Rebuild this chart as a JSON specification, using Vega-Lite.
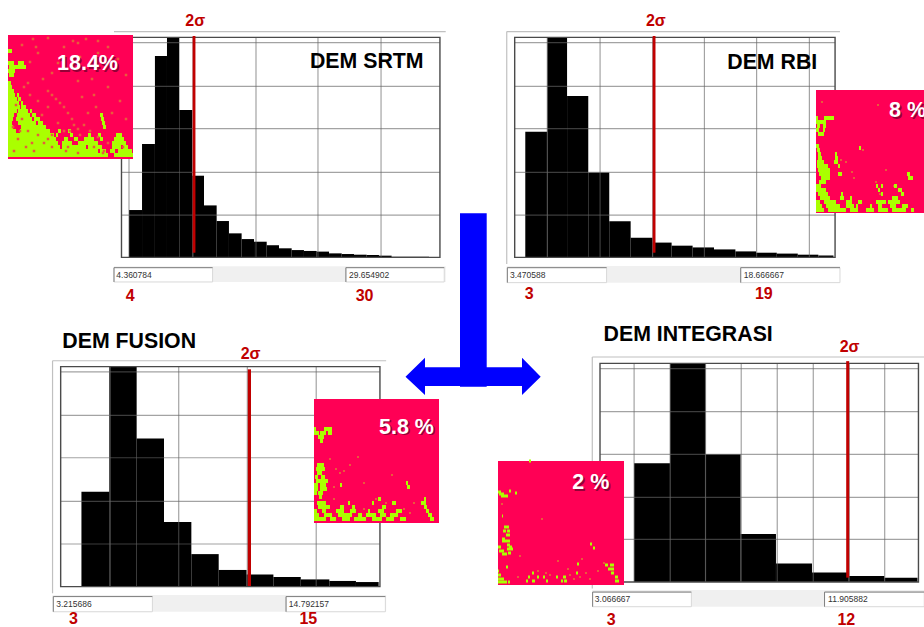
{"$schema":"https://vega.github.io/schema/vega-lite/v6.json","width":924,"height":627,"autosize":{"type":"none"},"padding":0,"background":"white","config":{"axis":{"disable":true},"view":{"stroke":null},"text":{"font":"Liberation Sans","align":"left","baseline":"alphabetic"}},"resolve":{"scale":{"x":"independent","y":"independent"}},"layer":[
{"layer":[
{"data":{"values":[{"a":3.14,"b":30.12,"c":-4,"d":-11.2}]},"mark":{"type":"rect","fill":"#f0f0f0"},"encoding":{"x":{"field":"a","type":"quantitative","scale":{"domain":[4.360784,29.654902],"range":[129,440],"nice":false,"zero":false}},"x2":{"field":"b"},"y":{"field":"c","type":"quantitative","scale":{"domain":[0,100],"range":[257.33,37.33],"nice":false,"zero":false}},"y2":{"field":"d"}}},
{"data":{"values":[{"a":3.14,"b":11.16,"c":-4.7,"d":-11.2},{"a":22.0,"b":30.0,"c":-4.7,"d":-11.2}]},"mark":{"type":"rect","fill":"white","stroke":"#d8d8d8","strokeWidth":1},"encoding":{"x":{"field":"a","type":"quantitative"},"x2":{"field":"b"},"y":{"field":"c","type":"quantitative"},"y2":{"field":"d"}}},
{"data":{"values":[{"a":3.14,"b":11.16,"c":-4.7,"d":-4.7},{"a":3.14,"b":3.14,"c":-4.7,"d":-11.2},{"a":22.0,"b":30.0,"c":-4.7,"d":-4.7},{"a":22.0,"b":22.0,"c":-4.7,"d":-11.2}]},"mark":{"type":"rule","color":"#808080","strokeWidth":1},"encoding":{"x":{"field":"a","type":"quantitative"},"x2":{"field":"b"},"y":{"field":"c","type":"quantitative"},"y2":{"field":"d"}}},
{"data":{"values":[{"a":3.14,"b":30.12,"c":102.6,"d":102.6}]},"mark":{"type":"rule","color":"#c0c0c0","strokeWidth":1.2},"encoding":{"x":{"field":"a","type":"quantitative"},"x2":{"field":"b"},"y":{"field":"c","type":"quantitative"},"y2":{"field":"d"}}},
{"data":{"values":[{"a":4.36,"b":5.42,"c":21.5},{"a":5.42,"b":6.47,"c":51.5},{"a":6.47,"b":7.45,"c":91.5},{"a":7.45,"b":8.45,"c":100},{"a":8.45,"b":9.51,"c":67},{"a":9.51,"b":10.46,"c":37.1},{"a":10.46,"b":11.49,"c":23.6},{"a":11.49,"b":12.49,"c":16.5},{"a":12.49,"b":13.52,"c":10.9},{"a":13.52,"b":14.53,"c":8.3},{"a":14.53,"b":15.56,"c":7.1},{"a":15.56,"b":16.56,"c":5.5},{"a":16.56,"b":17.59,"c":4.1},{"a":17.59,"b":18.59,"c":3.3},{"a":18.59,"b":19.62,"c":2.9},{"a":19.62,"b":20.63,"c":2.6},{"a":20.63,"b":21.66,"c":1.8},{"a":21.66,"b":22.66,"c":1.5},{"a":22.66,"b":23.69,"c":1.2},{"a":23.69,"b":24.69,"c":1.06},{"a":24.69,"b":25.72,"c":0.76},{"a":25.72,"b":28.76,"c":0.3}]},"mark":{"type":"rect","color":"black"},"encoding":{"x":{"field":"a","type":"quantitative"},"x2":{"field":"b"},"y":{"field":"c","type":"quantitative"},"y2":{"datum":0}}},
{"data":{"values":[{"a":4.36,"b":4.36,"c":0,"d":100},{"a":9.57,"b":9.57,"c":0,"d":100},{"a":14.69,"b":14.69,"c":0,"d":100},{"a":19.73,"b":19.73,"c":0,"d":100},{"a":24.86,"b":24.86,"c":0,"d":100},{"a":3.75,"b":29.65,"c":97.6,"d":97.6},{"a":3.75,"b":29.65,"c":77.7,"d":77.7},{"a":3.75,"b":29.65,"c":58.5,"d":58.5},{"a":3.75,"b":29.65,"c":38.6,"d":38.6},{"a":3.75,"b":29.65,"c":19.2,"d":19.2}]},"mark":{"type":"rule","color":"#666666","opacity":0.6,"strokeWidth":1.2},"encoding":{"x":{"field":"a","type":"quantitative"},"x2":{"field":"b"},"y":{"field":"c","type":"quantitative"},"y2":{"field":"d"}}},
{"data":{"values":[{"a":3.75,"b":29.65,"c":0,"d":100}]},"mark":{"type":"rect","fill":"transparent","stroke":"#4a4a4a","strokeWidth":1.4},"encoding":{"x":{"field":"a","type":"quantitative"},"x2":{"field":"b"},"y":{"field":"c","type":"quantitative"},"y2":{"field":"d"}}},
{"data":{"values":[{"a":9.65,"c":2.1,"d":100.6}]},"mark":{"type":"rule","color":"#c00000","strokeWidth":2.8},"encoding":{"x":{"field":"a","type":"quantitative"},"y":{"field":"c","type":"quantitative"},"y2":{"field":"d"}}},
{"data":{"values":[{"t":"2σ","a":8.94,"c":105.2},{"t":"4","a":4.09,"c":-19.8},{"t":"30","a":22.8,"c":-19.8}]},"mark":{"type":"text","fontWeight":"bold","fontSize":16,"color":"#c00000"},"encoding":{"x":{"field":"a","type":"quantitative"},"y":{"field":"c","type":"quantitative"},"text":{"field":"t"}}},
{"data":{"values":[{"t":"4.360784","a":3.33,"c":-9.4},{"t":"29.654902","a":22.25,"c":-9.4}]},"mark":{"type":"text","fontSize":8.5,"color":"#333333"},"encoding":{"x":{"field":"a","type":"quantitative"},"y":{"field":"c","type":"quantitative"},"text":{"field":"t"}}},
{"data":{"values":[{"t":"DEM SRTM","a":19.08,"c":86.2}]},"mark":{"type":"text","fontWeight":"bold","fontSize":21.3,"color":"black"},"encoding":{"x":{"field":"a","type":"quantitative"},"y":{"field":"c","type":"quantitative"},"text":{"field":"t"}}}
]},
{"layer":[
{"data":{"values":[{"a":2.56,"b":18.91,"c":-3.9,"d":-11.5}]},"mark":{"type":"rect","fill":"#f0f0f0"},"encoding":{"x":{"field":"a","type":"quantitative","scale":{"domain":[3.470588,18.666667],"range":[525.3,835],"nice":false,"zero":false}},"x2":{"field":"b"},"y":{"field":"c","type":"quantitative","scale":{"domain":[0,100],"range":[257.33,37.33],"nice":false,"zero":false}},"y2":{"field":"d"}}},
{"data":{"values":[{"a":2.59,"b":7.46,"c":-4.7,"d":-11.5},{"a":14.04,"b":18.91,"c":-4.7,"d":-11.5}]},"mark":{"type":"rect","fill":"white","stroke":"#d8d8d8","strokeWidth":1},"encoding":{"x":{"field":"a","type":"quantitative"},"x2":{"field":"b"},"y":{"field":"c","type":"quantitative"},"y2":{"field":"d"}}},
{"data":{"values":[{"a":2.59,"b":7.46,"c":-4.7,"d":-4.7},{"a":2.59,"b":2.59,"c":-4.7,"d":-11.5},{"a":14.04,"b":18.91,"c":-4.7,"d":-4.7},{"a":14.04,"b":14.04,"c":-4.7,"d":-11.5}]},"mark":{"type":"rule","color":"#808080","strokeWidth":1},"encoding":{"x":{"field":"a","type":"quantitative"},"x2":{"field":"b"},"y":{"field":"c","type":"quantitative"},"y2":{"field":"d"}}},
{"data":{"values":[{"a":2.56,"b":18.91,"c":102.6,"d":102.6},{"a":2.56,"b":2.56,"c":102.6,"d":-3}]},"mark":{"type":"rule","color":"#c0c0c0","strokeWidth":1.2},"encoding":{"x":{"field":"a","type":"quantitative"},"x2":{"field":"b"},"y":{"field":"c","type":"quantitative"},"y2":{"field":"d"}}},
{"data":{"values":[{"a":3.47,"b":4.55,"c":57.1},{"a":4.55,"b":5.52,"c":100},{"a":5.52,"b":6.56,"c":73.3},{"a":6.56,"b":7.59,"c":38.6},{"a":7.59,"b":8.64,"c":16.4},{"a":8.64,"b":9.72,"c":8.9},{"a":9.72,"b":10.65,"c":6.7},{"a":10.65,"b":11.68,"c":5.3},{"a":11.68,"b":12.73,"c":4.5},{"a":12.73,"b":13.78,"c":3.6},{"a":13.78,"b":14.79,"c":2.7},{"a":14.79,"b":15.81,"c":2.1},{"a":15.81,"b":16.84,"c":1.7},{"a":16.84,"b":17.85,"c":1.2},{"a":17.85,"b":18.59,"c":0.8}]},"mark":{"type":"rect","color":"black"},"encoding":{"x":{"field":"a","type":"quantitative"},"x2":{"field":"b"},"y":{"field":"c","type":"quantitative"},"y2":{"datum":0}}},
{"data":{"values":[{"a":4.55,"b":4.55,"c":0,"d":100},{"a":7.14,"b":7.14,"c":0,"d":100},{"a":9.72,"b":9.72,"c":0,"d":100},{"a":12.26,"b":12.26,"c":0,"d":100},{"a":14.82,"b":14.82,"c":0,"d":100},{"a":17.41,"b":17.41,"c":0,"d":100},{"a":2.95,"b":18.67,"c":97.6,"d":97.6},{"a":2.95,"b":18.67,"c":77.7,"d":77.7},{"a":2.95,"b":18.67,"c":58.5,"d":58.5},{"a":2.95,"b":18.67,"c":38.6,"d":38.6},{"a":2.95,"b":18.67,"c":19.2,"d":19.2}]},"mark":{"type":"rule","color":"#666666","opacity":0.6,"strokeWidth":1.2},"encoding":{"x":{"field":"a","type":"quantitative"},"x2":{"field":"b"},"y":{"field":"c","type":"quantitative"},"y2":{"field":"d"}}},
{"data":{"values":[{"a":2.95,"b":18.67,"c":0,"d":100}]},"mark":{"type":"rect","fill":"transparent","stroke":"#4a4a4a","strokeWidth":1.4},"encoding":{"x":{"field":"a","type":"quantitative"},"x2":{"field":"b"},"y":{"field":"c","type":"quantitative"},"y2":{"field":"d"}}},
{"data":{"values":[{"a":9.79,"c":2.1,"d":100.6}]},"mark":{"type":"rule","color":"#c00000","strokeWidth":2.8},"encoding":{"x":{"field":"a","type":"quantitative"},"y":{"field":"c","type":"quantitative"},"y2":{"field":"d"}}},
{"data":{"values":[{"t":"2σ","a":9.39,"c":105.2},{"t":"3","a":3.44,"c":-18.9},{"t":"19","a":14.74,"c":-18.9}]},"mark":{"type":"text","fontWeight":"bold","fontSize":16,"color":"#c00000"},"encoding":{"x":{"field":"a","type":"quantitative"},"y":{"field":"c","type":"quantitative"},"text":{"field":"t"}}},
{"data":{"values":[{"t":"3.470588","a":2.72,"c":-9.4},{"t":"18.666667","a":14.19,"c":-9.4}]},"mark":{"type":"text","fontSize":8.5,"color":"#333333"},"encoding":{"x":{"field":"a","type":"quantitative"},"y":{"field":"c","type":"quantitative"},"text":{"field":"t"}}},
{"data":{"values":[{"t":"DEM RBI","a":13.38,"c":85.8}]},"mark":{"type":"text","fontWeight":"bold","fontSize":21.3,"color":"black"},"encoding":{"x":{"field":"a","type":"quantitative"},"y":{"field":"c","type":"quantitative"},"text":{"field":"t"}}}
]},
{"layer":[
{"data":{"values":[{"a":2.1,"b":15.03,"c":-3.8,"d":-11.4}]},"mark":{"type":"rect","fill":"#f0f0f0"},"encoding":{"x":{"field":"a","type":"quantitative","scale":{"domain":[3.215686,14.792157],"range":[81.33,380],"nice":false,"zero":false}},"x2":{"field":"b"},"y":{"field":"c","type":"quantitative","scale":{"domain":[0,100],"range":[586.67,366.67],"nice":false,"zero":false}},"y2":{"field":"d"}}},
{"data":{"values":[{"a":2.13,"b":5.97,"c":-4.5,"d":-11.4},{"a":11.15,"b":15.0,"c":-4.5,"d":-11.4}]},"mark":{"type":"rect","fill":"white","stroke":"#d8d8d8","strokeWidth":1},"encoding":{"x":{"field":"a","type":"quantitative"},"x2":{"field":"b"},"y":{"field":"c","type":"quantitative"},"y2":{"field":"d"}}},
{"data":{"values":[{"a":2.13,"b":5.97,"c":-4.5,"d":-4.5},{"a":2.13,"b":2.13,"c":-4.5,"d":-11.4},{"a":11.15,"b":15.0,"c":-4.5,"d":-4.5},{"a":11.15,"b":11.15,"c":-4.5,"d":-11.4}]},"mark":{"type":"rule","color":"#808080","strokeWidth":1},"encoding":{"x":{"field":"a","type":"quantitative"},"x2":{"field":"b"},"y":{"field":"c","type":"quantitative"},"y2":{"field":"d"}}},
{"data":{"values":[{"a":2.1,"b":15.03,"c":102.7,"d":102.7},{"a":2.1,"b":2.1,"c":102.7,"d":-3}]},"mark":{"type":"rule","color":"#c0c0c0","strokeWidth":1.2},"encoding":{"x":{"field":"a","type":"quantitative"},"x2":{"field":"b"},"y":{"field":"c","type":"quantitative"},"y2":{"field":"d"}}},
{"data":{"values":[{"a":3.22,"b":4.3,"c":43.2},{"a":4.3,"b":5.36,"c":100},{"a":5.36,"b":6.42,"c":67.4},{"a":6.42,"b":7.48,"c":29.4},{"a":7.48,"b":8.54,"c":14.8},{"a":8.54,"b":9.62,"c":7.6},{"a":9.62,"b":10.66,"c":5.5},{"a":10.66,"b":11.72,"c":4.4},{"a":11.72,"b":12.83,"c":3.3},{"a":12.83,"b":13.86,"c":2.6},{"a":13.86,"b":14.74,"c":2.1}]},"mark":{"type":"rect","color":"black"},"encoding":{"x":{"field":"a","type":"quantitative"},"x2":{"field":"b"},"y":{"field":"c","type":"quantitative"},"y2":{"datum":0}}},
{"data":{"values":[{"a":4.34,"b":4.34,"c":0,"d":100},{"a":6.99,"b":6.99,"c":0,"d":100},{"a":9.65,"b":9.65,"c":0,"d":100},{"a":12.32,"b":12.32,"c":0,"d":100},{"a":2.415,"b":14.79,"c":97.6,"d":97.6},{"a":2.415,"b":14.79,"c":77.9,"d":77.9},{"a":2.415,"b":14.79,"c":58.6,"d":58.6},{"a":2.415,"b":14.79,"c":38.8,"d":38.8},{"a":2.415,"b":14.79,"c":19.4,"d":19.4}]},"mark":{"type":"rule","color":"#666666","opacity":0.6,"strokeWidth":1.2},"encoding":{"x":{"field":"a","type":"quantitative"},"x2":{"field":"b"},"y":{"field":"c","type":"quantitative"},"y2":{"field":"d"}}},
{"data":{"values":[{"a":2.415,"b":14.79,"c":0,"d":100}]},"mark":{"type":"rect","fill":"transparent","stroke":"#4a4a4a","strokeWidth":1.4},"encoding":{"x":{"field":"a","type":"quantitative"},"x2":{"field":"b"},"y":{"field":"c","type":"quantitative"},"y2":{"field":"d"}}},
{"data":{"values":[{"a":9.73,"c":0.3,"d":98.8}]},"mark":{"type":"rule","color":"#c00000","strokeWidth":3.2},"encoding":{"x":{"field":"a","type":"quantitative"},"y":{"field":"c","type":"quantitative"},"y2":{"field":"d"}}},
{"data":{"values":[{"t":"2σ","a":9.39,"c":103.3},{"t":"3","a":2.74,"c":-16.8},{"t":"15","a":11.67,"c":-16.8}]},"mark":{"type":"text","fontWeight":"bold","fontSize":16,"color":"#c00000"},"encoding":{"x":{"field":"a","type":"quantitative"},"y":{"field":"c","type":"quantitative"},"text":{"field":"t"}}},
{"data":{"values":[{"t":"3.215686","a":2.24,"c":-9.1},{"t":"14.792157","a":11.26,"c":-9.1}]},"mark":{"type":"text","fontSize":8.5,"color":"#333333"},"encoding":{"x":{"field":"a","type":"quantitative"},"y":{"field":"c","type":"quantitative"},"text":{"field":"t"}}},
{"data":{"values":[{"t":"DEM FUSION","a":2.48,"c":108.3}]},"mark":{"type":"text","fontWeight":"bold","fontSize":21.3,"color":"black"},"encoding":{"x":{"field":"a","type":"quantitative"},"y":{"field":"c","type":"quantitative"},"text":{"field":"t"}}}
]},
{"layer":[
{"data":{"values":[{"a":1.77,"b":12.09,"c":-3.7,"d":-11.3}]},"mark":{"type":"rect","fill":"#f0f0f0"},"encoding":{"x":{"field":"a","type":"quantitative","scale":{"domain":[3.066667,11.905882],"range":[634,918.33],"nice":false,"zero":false}},"x2":{"field":"b"},"y":{"field":"c","type":"quantitative","scale":{"domain":[0,100],"range":[582,363.33],"nice":false,"zero":false}},"y2":{"field":"d"}}},
{"data":{"values":[{"a":1.78,"b":4.85,"c":-4.6,"d":-11.3},{"a":8.99,"b":12.09,"c":-4.6,"d":-11.3}]},"mark":{"type":"rect","fill":"white","stroke":"#d8d8d8","strokeWidth":1},"encoding":{"x":{"field":"a","type":"quantitative"},"x2":{"field":"b"},"y":{"field":"c","type":"quantitative"},"y2":{"field":"d"}}},
{"data":{"values":[{"a":1.78,"b":4.85,"c":-4.6,"d":-4.6},{"a":1.78,"b":1.78,"c":-4.6,"d":-11.3},{"a":8.99,"b":12.09,"c":-4.6,"d":-4.6},{"a":8.99,"b":8.99,"c":-4.6,"d":-11.3}]},"mark":{"type":"rule","color":"#808080","strokeWidth":1},"encoding":{"x":{"field":"a","type":"quantitative"},"x2":{"field":"b"},"y":{"field":"c","type":"quantitative"},"y2":{"field":"d"}}},
{"data":{"values":[{"a":1.77,"b":12.09,"c":102.9,"d":102.9},{"a":1.77,"b":1.77,"c":102.9,"d":-3}]},"mark":{"type":"rule","color":"#c0c0c0","strokeWidth":1.2},"encoding":{"x":{"field":"a","type":"quantitative"},"x2":{"field":"b"},"y":{"field":"c","type":"quantitative"},"y2":{"field":"d"}}},
{"data":{"values":[{"a":3.07,"b":4.19,"c":54.3},{"a":4.19,"b":5.29,"c":100},{"a":5.29,"b":6.38,"c":58.4},{"a":6.38,"b":7.48,"c":22},{"a":7.48,"b":8.6,"c":8.5},{"a":8.6,"b":9.73,"c":4.4},{"a":9.73,"b":10.85,"c":2.7},{"a":10.85,"b":11.88,"c":2.0}]},"mark":{"type":"rect","color":"black"},"encoding":{"x":{"field":"a","type":"quantitative"},"x2":{"field":"b"},"y":{"field":"c","type":"quantitative"},"y2":{"datum":0}}},
{"data":{"values":[{"a":3.07,"b":3.07,"c":0,"d":100},{"a":4.19,"b":4.19,"c":0,"d":100},{"a":5.29,"b":5.29,"c":0,"d":100},{"a":6.4,"b":6.4,"c":0,"d":100},{"a":7.52,"b":7.52,"c":0,"d":100},{"a":8.64,"b":8.64,"c":0,"d":100},{"a":9.76,"b":9.76,"c":0,"d":100},{"a":10.86,"b":10.86,"c":0,"d":100},{"a":2.01,"b":11.91,"c":97.6,"d":97.6},{"a":2.01,"b":11.91,"c":77.9,"d":77.9},{"a":2.01,"b":11.91,"c":58.4,"d":58.4},{"a":2.01,"b":11.91,"c":38.7,"d":38.7},{"a":2.01,"b":11.91,"c":19.5,"d":19.5}]},"mark":{"type":"rule","color":"#666666","opacity":0.6,"strokeWidth":1.2},"encoding":{"x":{"field":"a","type":"quantitative"},"x2":{"field":"b"},"y":{"field":"c","type":"quantitative"},"y2":{"field":"d"}}},
{"data":{"values":[{"a":2.01,"b":11.91,"c":0,"d":100}]},"mark":{"type":"rect","fill":"transparent","stroke":"#4a4a4a","strokeWidth":1.4},"encoding":{"x":{"field":"a","type":"quantitative"},"x2":{"field":"b"},"y":{"field":"c","type":"quantitative"},"y2":{"field":"d"}}},
{"data":{"values":[{"a":9.71,"c":2.0,"d":101}]},"mark":{"type":"rule","color":"#c00000","strokeWidth":3},"encoding":{"x":{"field":"a","type":"quantitative"},"y":{"field":"c","type":"quantitative"},"y2":{"field":"d"}}},
{"data":{"values":[{"t":"2σ","a":9.46,"c":105},{"t":"3","a":2.22,"c":-19.5},{"t":"12","a":9.39,"c":-19.5}]},"mark":{"type":"text","fontWeight":"bold","fontSize":16,"color":"#c00000"},"encoding":{"x":{"field":"a","type":"quantitative"},"y":{"field":"c","type":"quantitative"},"text":{"field":"t"}}},
{"data":{"values":[{"t":"3.066667","a":1.85,"c":-9.1},{"t":"11.905882","a":9.1,"c":-9.1}]},"mark":{"type":"text","fontSize":8.5,"color":"#333333"},"encoding":{"x":{"field":"a","type":"quantitative"},"y":{"field":"c","type":"quantitative"},"text":{"field":"t"}}},
{"data":{"values":[{"t":"DEM INTEGRASI","a":2.12,"c":110.4}]},"mark":{"type":"text","fontWeight":"bold","fontSize":21.3,"color":"black"},"encoding":{"x":{"field":"a","type":"quantitative"},"y":{"field":"c","type":"quantitative"},"text":{"field":"t"}}}
]},
{"data":{"values":[{"u":405.5,"v":376.7,"w":376.7},{"u":425,"v":357.7,"w":395},{"u":425,"v":367.3,"w":386},{"u":460,"v":367.3,"w":386},{"u":460,"v":213.3,"w":386.7},{"u":486.7,"v":213.3,"w":386.7},{"u":486.7,"v":367.3,"w":386},{"u":522,"v":367.3,"w":386},{"u":522,"v":357.7,"w":395},{"u":540.7,"v":376.7,"w":376.7}]},"mark":{"type":"area","color":"#0000ff","opacity":1},"encoding":{"x":{"field":"u","type":"quantitative","scale":{"domain":[0,924],"range":[0,924],"nice":false,"zero":false}},"y":{"field":"v","type":"quantitative","scale":{"domain":[0,627],"range":[0,627],"nice":false,"zero":false}},"y2":{"field":"w"}}},
{"layer":[
{"data":{"values":[{"a":0,"b":125,"c":0,"d":124}]},"mark":{"type":"rect","color":"#ff0055"},"encoding":{"x":{"field":"a","type":"quantitative","scale":{"domain":[0,125],"range":[8,133],"nice":false,"zero":false}},"x2":{"field":"b"},"y":{"field":"c","type":"quantitative","scale":{"domain":[0,124],"range":[35,159],"nice":false,"zero":false}},"y2":{"field":"d"}}},
{"data":{"values":[{"a":0,"b":4,"r":16},{"a":0,"b":6,"r":28},{"a":10,"b":16,"r":28},{"a":1,"b":18,"r":32},{"a":0,"b":7,"r":36},{"a":1,"b":6,"r":40},{"a":0,"b":3,"r":48},{"a":0,"b":4,"r":52},{"a":0,"b":6,"r":56},{"a":0,"b":7,"r":60},{"a":9,"b":11,"r":60},{"a":0,"b":9,"r":64},{"a":10,"b":13,"r":64},{"a":0,"b":11,"r":68},{"a":13,"b":15,"r":68},{"a":0,"b":12,"r":72},{"a":13,"b":18,"r":72},{"a":0,"b":9,"r":76},{"a":10,"b":20,"r":76},{"a":22,"b":24,"r":76},{"a":0,"b":6,"r":80},{"a":9,"b":22,"r":80},{"a":24,"b":28,"r":80},{"a":92,"b":95,"r":80},{"a":0,"b":5,"r":84},{"a":8,"b":24,"r":84},{"a":26,"b":32,"r":84},{"a":93,"b":96,"r":84},{"a":0,"b":4,"r":88},{"a":10,"b":28,"r":88},{"a":30,"b":35,"r":88},{"a":94,"b":97,"r":88},{"a":0,"b":5,"r":92},{"a":13,"b":38,"r":92},{"a":95,"b":98,"r":92},{"a":0,"b":8,"r":96},{"a":12,"b":42,"r":96},{"a":50,"b":53,"r":96},{"a":60,"b":63,"r":96},{"a":0,"b":46,"r":100},{"a":48,"b":50,"r":100},{"a":62,"b":65,"r":100},{"a":80,"b":83,"r":100},{"a":90,"b":93,"r":100},{"a":108,"b":114,"r":100},{"a":0,"b":48,"r":104},{"a":56,"b":60,"r":104},{"a":66,"b":70,"r":104},{"a":76,"b":86,"r":104},{"a":92,"b":95,"r":104},{"a":106,"b":116,"r":104},{"a":0,"b":50,"r":108},{"a":54,"b":64,"r":108},{"a":70,"b":90,"r":108},{"a":104,"b":118,"r":108},{"a":0,"b":52,"r":112},{"a":54,"b":78,"r":112},{"a":80,"b":94,"r":112},{"a":104,"b":113,"r":112},{"a":115,"b":120,"r":112},{"a":0,"b":90,"r":116},{"a":92,"b":98,"r":116},{"a":102,"b":107,"r":116},{"a":110,"b":124,"r":116},{"a":0,"b":100,"r":120},{"a":106,"b":125,"r":120}]},"mark":{"type":"rect","color":"#aaff00","height":4},"encoding":{"x":{"field":"a","type":"quantitative"},"x2":{"field":"b"},"y":{"field":"r","type":"quantitative"}}},
{"data":{"values":[{"a":25,"r":4},{"a":40,"r":3},{"a":65,"r":6},{"a":70,"r":8},{"a":30,"r":18},{"a":90,"r":18},{"a":28,"r":12},{"a":78,"r":4},{"a":22,"r":27},{"a":50,"r":28},{"a":72,"r":22},{"a":110,"r":24},{"a":90,"r":6},{"a":100,"r":12},{"a":56,"r":12},{"a":118,"r":40},{"a":14,"r":10},{"a":35,"r":44},{"a":44,"r":38},{"a":70,"r":46},{"a":84,"r":44},{"a":100,"r":52},{"a":112,"r":66},{"a":86,"r":60},{"a":74,"r":62},{"a":40,"r":56},{"a":44,"r":60},{"a":48,"r":64},{"a":52,"r":68},{"a":56,"r":72},{"a":60,"r":78},{"a":64,"r":84},{"a":66,"r":90},{"a":70,"r":94},{"a":62,"r":96},{"a":72,"r":100},{"a":40,"r":72},{"a":30,"r":66},{"a":22,"r":60},{"a":16,"r":52},{"a":80,"r":78},{"a":88,"r":72},{"a":104,"r":78},{"a":118,"r":84},{"a":76,"r":90},{"a":82,"r":96},{"a":90,"r":102},{"a":100,"r":108},{"a":96,"r":116},{"a":20,"r":48},{"a":34,"r":80},{"a":50,"r":88},{"a":56,"r":96},{"a":44,"r":100},{"a":8,"r":70},{"a":14,"r":84},{"a":5,"r":92},{"a":20,"r":96},{"a":30,"r":100},{"a":10,"r":104},{"a":36,"r":108},{"a":18,"r":112},{"a":44,"r":112},{"a":26,"r":116},{"a":58,"r":116},{"a":70,"r":118},{"a":6,"r":116},{"a":40,"r":104},{"a":24,"r":108},{"a":12,"r":96},{"a":60,"r":112},{"a":86,"r":112},{"a":95,"r":118},{"a":115,"r":112}]},"mark":{"type":"rect","color":"#e85c3c","width":2.5,"height":2.5},"encoding":{"x":{"field":"a","type":"quantitative"},"y":{"field":"r","type":"quantitative"}}},
{"data":{"values":[{"t":"18.4%","a":49,"r":35}]},"mark":{"type":"text","fontWeight":"bold","fontSize":21.5,"color":"#7a0030","dx":1.5,"dy":1.5,"opacity":0.8},"encoding":{"x":{"field":"a","type":"quantitative"},"y":{"field":"r","type":"quantitative"},"text":{"field":"t"}}},
{"data":{"values":[{"t":"18.4%","a":49,"r":35}]},"mark":{"type":"text","fontWeight":"bold","fontSize":21.5,"color":"white"},"encoding":{"x":{"field":"a","type":"quantitative"},"y":{"field":"r","type":"quantitative"},"text":{"field":"t"}}}
]},
{"layer":[
{"data":{"values":[{"a":0,"b":125,"c":0,"d":123}]},"mark":{"type":"rect","color":"#ff0055"},"encoding":{"x":{"field":"a","type":"quantitative","scale":{"domain":[0,125],"range":[816,941],"nice":false,"zero":false}},"x2":{"field":"b"},"y":{"field":"c","type":"quantitative","scale":{"domain":[0,123],"range":[90,213],"nice":false,"zero":false}},"y2":{"field":"d"}}},
{"data":{"values":[{"a":6,"r":12},{"a":62,"r":15},{"a":44,"r":58},{"a":47,"r":60},{"a":36,"r":82},{"a":38,"r":88},{"a":25,"r":70},{"a":30,"r":72},{"a":60,"r":92},{"a":70,"r":80},{"a":78,"r":96},{"a":64,"r":104}]},"mark":{"type":"rect","color":"#e85c3c","width":2,"height":2},"encoding":{"x":{"field":"a","type":"quantitative"},"y":{"field":"r","type":"quantitative"}}},
{"data":{"values":[{"a":0,"b":2,"r":28},{"a":8,"b":18,"r":28},{"a":0,"b":10,"r":32},{"a":1,"b":4,"r":36},{"a":7,"b":10,"r":36},{"a":0,"b":3,"r":40},{"a":7,"b":9,"r":40},{"a":2,"b":8,"r":44},{"a":0,"b":3,"r":56},{"a":1,"b":4,"r":60},{"a":2,"b":5,"r":64},{"a":19,"b":21,"r":64},{"a":2,"b":6,"r":68},{"a":19,"b":22,"r":68},{"a":43,"b":45,"r":58},{"a":1,"b":8,"r":72},{"a":18,"b":22,"r":72},{"a":1,"b":12,"r":76},{"a":22,"b":24,"r":76},{"a":2,"b":14,"r":80},{"a":3,"b":14,"r":84},{"a":22,"b":26,"r":84},{"a":91,"b":94,"r":84},{"a":5,"b":14,"r":88},{"a":92,"b":97,"r":88},{"a":3,"b":10,"r":92},{"a":0,"b":5,"r":96},{"a":60,"b":62,"r":96},{"a":65,"b":67,"r":96},{"a":78,"b":81,"r":96},{"a":0,"b":10,"r":100},{"a":62,"b":64,"r":100},{"a":82,"b":86,"r":100},{"a":2,"b":12,"r":104},{"a":25,"b":27,"r":104},{"a":65,"b":67,"r":104},{"a":85,"b":88,"r":104},{"a":4,"b":14,"r":108},{"a":24,"b":28,"r":108},{"a":34,"b":36,"r":108},{"a":76,"b":82,"r":108},{"a":0,"b":4,"r":112},{"a":8,"b":20,"r":112},{"a":30,"b":36,"r":112},{"a":42,"b":46,"r":112},{"a":60,"b":70,"r":112},{"a":72,"b":84,"r":112},{"a":0,"b":6,"r":116},{"a":10,"b":24,"r":116},{"a":30,"b":38,"r":116},{"a":40,"b":42,"r":116},{"a":54,"b":56,"r":116},{"a":62,"b":66,"r":116},{"a":74,"b":80,"r":116},{"a":86,"b":92,"r":116},{"a":0,"b":8,"r":120},{"a":12,"b":30,"r":120},{"a":34,"b":42,"r":120},{"a":50,"b":58,"r":120},{"a":62,"b":72,"r":120},{"a":76,"b":90,"r":120},{"a":95,"b":98,"r":120}]},"mark":{"type":"rect","color":"#aaff00","height":4},"encoding":{"x":{"field":"a","type":"quantitative"},"x2":{"field":"b"},"y":{"field":"r","type":"quantitative"}}},
{"data":{"values":[{"t":"8 %","a":73,"r":27}]},"mark":{"type":"text","fontWeight":"bold","fontSize":21.5,"color":"#7a0030","dx":1.5,"dy":1.5,"opacity":0.8},"encoding":{"x":{"field":"a","type":"quantitative"},"y":{"field":"r","type":"quantitative"},"text":{"field":"t"}}},
{"data":{"values":[{"t":"8 %","a":73,"r":27}]},"mark":{"type":"text","fontWeight":"bold","fontSize":21.5,"color":"white"},"encoding":{"x":{"field":"a","type":"quantitative"},"y":{"field":"r","type":"quantitative"},"text":{"field":"t"}}}
]},
{"layer":[
{"data":{"values":[{"a":0,"b":125,"c":0,"d":124}]},"mark":{"type":"rect","color":"#ff0055"},"encoding":{"x":{"field":"a","type":"quantitative","scale":{"domain":[0,125],"range":[314,439],"nice":false,"zero":false}},"x2":{"field":"b"},"y":{"field":"c","type":"quantitative","scale":{"domain":[0,124],"range":[399,523],"nice":false,"zero":false}},"y2":{"field":"d"}}},
{"data":{"values":[{"a":44,"r":58},{"a":22,"r":70},{"a":26,"r":74},{"a":30,"r":72},{"a":36,"r":66},{"a":78,"r":76},{"a":50,"r":84},{"a":20,"r":88},{"a":16,"r":60},{"a":14,"r":108},{"a":20,"r":100},{"a":90,"r":110},{"a":96,"r":114},{"a":100,"r":104},{"a":50,"r":110},{"a":62,"r":100},{"a":72,"r":104}]},"mark":{"type":"rect","color":"#e85c3c","width":2,"height":2},"encoding":{"x":{"field":"a","type":"quantitative"},"y":{"field":"r","type":"quantitative"}}},
{"data":{"values":[{"a":0,"b":2,"r":30},{"a":10,"b":18,"r":30},{"a":0,"b":5,"r":34},{"a":6,"b":12,"r":34},{"a":14,"b":18,"r":34},{"a":4,"b":10,"r":38},{"a":6,"b":9,"r":42},{"a":3,"b":10,"r":66},{"a":2,"b":11,"r":70},{"a":3,"b":8,"r":74},{"a":1,"b":4,"r":78},{"a":7,"b":11,"r":78},{"a":2,"b":14,"r":82},{"a":92,"b":94,"r":84},{"a":0,"b":4,"r":86},{"a":6,"b":12,"r":86},{"a":26,"b":28,"r":86},{"a":93,"b":96,"r":88},{"a":0,"b":4,"r":90},{"a":6,"b":13,"r":90},{"a":0,"b":3,"r":94},{"a":4,"b":9,"r":94},{"a":5,"b":8,"r":98},{"a":64,"b":67,"r":100},{"a":110,"b":112,"r":100},{"a":3,"b":12,"r":104},{"a":34,"b":36,"r":104},{"a":58,"b":60,"r":104},{"a":78,"b":82,"r":104},{"a":107,"b":112,"r":104},{"a":4,"b":16,"r":108},{"a":26,"b":30,"r":108},{"a":38,"b":41,"r":108},{"a":68,"b":72,"r":108},{"a":110,"b":113,"r":108},{"a":0,"b":3,"r":112},{"a":8,"b":12,"r":112},{"a":22,"b":30,"r":112},{"a":36,"b":42,"r":112},{"a":54,"b":56,"r":112},{"a":64,"b":70,"r":112},{"a":82,"b":88,"r":112},{"a":112,"b":115,"r":112},{"a":0,"b":5,"r":116},{"a":10,"b":18,"r":116},{"a":24,"b":38,"r":116},{"a":44,"b":48,"r":116},{"a":52,"b":62,"r":116},{"a":66,"b":72,"r":116},{"a":76,"b":84,"r":116},{"a":114,"b":118,"r":116},{"a":0,"b":12,"r":120},{"a":16,"b":22,"r":120},{"a":28,"b":36,"r":120},{"a":40,"b":52,"r":120},{"a":58,"b":68,"r":120},{"a":72,"b":80,"r":120},{"a":86,"b":92,"r":120},{"a":116,"b":120,"r":120}]},"mark":{"type":"rect","color":"#aaff00","height":4},"encoding":{"x":{"field":"a","type":"quantitative"},"x2":{"field":"b"},"y":{"field":"r","type":"quantitative"}}},
{"data":{"values":[{"t":"5.8 %","a":65,"r":34.7}]},"mark":{"type":"text","fontWeight":"bold","fontSize":21.5,"color":"#7a0030","dx":1.5,"dy":1.5,"opacity":0.8},"encoding":{"x":{"field":"a","type":"quantitative"},"y":{"field":"r","type":"quantitative"},"text":{"field":"t"}}},
{"data":{"values":[{"t":"5.8 %","a":65,"r":34.7}]},"mark":{"type":"text","fontWeight":"bold","fontSize":21.5,"color":"white"},"encoding":{"x":{"field":"a","type":"quantitative"},"y":{"field":"r","type":"quantitative"},"text":{"field":"t"}}}
]},
{"layer":[
{"data":{"values":[{"a":0,"b":126,"c":0,"d":124}]},"mark":{"type":"rect","color":"#ff0055"},"encoding":{"x":{"field":"a","type":"quantitative","scale":{"domain":[0,126],"range":[498,624],"nice":false,"zero":false}},"x2":{"field":"b"},"y":{"field":"c","type":"quantitative","scale":{"domain":[0,124],"range":[461,585],"nice":false,"zero":false}},"y2":{"field":"d"}}},
{"data":{"values":[{"a":44,"r":58},{"a":4,"r":43},{"a":22,"r":95},{"a":60,"r":100},{"a":40,"r":110},{"a":48,"r":112},{"a":52,"r":114},{"a":70,"r":108},{"a":72,"r":114},{"a":76,"r":118},{"a":82,"r":116},{"a":88,"r":112},{"a":92,"r":118},{"a":20,"r":116},{"a":100,"r":110},{"a":106,"r":102},{"a":84,"r":98}]},"mark":{"type":"rect","color":"#e85c3c","width":2,"height":2},"encoding":{"x":{"field":"a","type":"quantitative"},"y":{"field":"r","type":"quantitative"}}},
{"data":{"values":[{"a":31,"b":33,"r":0},{"a":0,"b":3,"r":31},{"a":11,"b":13,"r":30},{"a":17,"b":19,"r":32},{"a":1,"b":6,"r":33},{"a":3,"b":10,"r":35},{"a":4,"b":5,"r":55},{"a":6,"b":11,"r":66},{"a":5,"b":8,"r":70},{"a":9,"b":12,"r":70},{"a":8,"b":12,"r":74},{"a":4,"b":7,"r":78},{"a":4,"b":12,"r":80},{"a":92,"b":94,"r":83},{"a":9,"b":12,"r":84},{"a":0,"b":3,"r":86},{"a":11,"b":14,"r":86},{"a":95,"b":97,"r":87},{"a":9,"b":15,"r":88},{"a":1,"b":6,"r":90},{"a":10,"b":13,"r":92},{"a":4,"b":9,"r":93},{"a":79,"b":81,"r":103},{"a":107,"b":110,"r":104},{"a":112,"b":116,"r":104},{"a":8,"b":10,"r":106},{"a":110,"b":116,"r":108},{"a":0,"b":1,"r":110},{"a":34,"b":36,"r":112},{"a":78,"b":80,"r":112},{"a":113,"b":116,"r":112},{"a":0,"b":3,"r":114},{"a":30,"b":32,"r":116},{"a":39,"b":41,"r":116},{"a":45,"b":47,"r":116},{"a":58,"b":60,"r":116},{"a":65,"b":68,"r":116},{"a":117,"b":120,"r":116},{"a":0,"b":6,"r":118},{"a":28,"b":30,"r":120},{"a":34,"b":37,"r":120},{"a":48,"b":50,"r":120},{"a":63,"b":65,"r":120},{"a":66,"b":69,"r":120},{"a":117,"b":121,"r":120},{"a":0,"b":9,"r":121},{"a":10,"b":12,"r":121}]},"mark":{"type":"rect","color":"#aaff00","height":3},"encoding":{"x":{"field":"a","type":"quantitative"},"x2":{"field":"b"},"y":{"field":"r","type":"quantitative"}}},
{"data":{"values":[{"t":"2 %","a":74.3,"r":28}]},"mark":{"type":"text","fontWeight":"bold","fontSize":21.5,"color":"#7a0030","dx":1.5,"dy":1.5,"opacity":0.8},"encoding":{"x":{"field":"a","type":"quantitative"},"y":{"field":"r","type":"quantitative"},"text":{"field":"t"}}},
{"data":{"values":[{"t":"2 %","a":74.3,"r":28}]},"mark":{"type":"text","fontWeight":"bold","fontSize":21.5,"color":"white"},"encoding":{"x":{"field":"a","type":"quantitative"},"y":{"field":"r","type":"quantitative"},"text":{"field":"t"}}}
]}
]}
